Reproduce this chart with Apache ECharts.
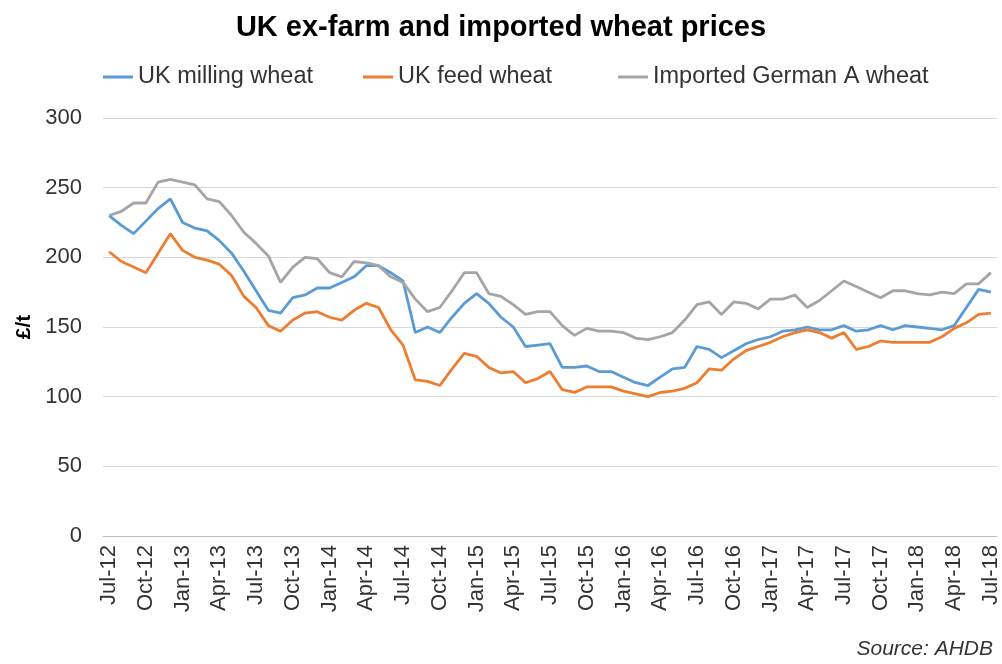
<!DOCTYPE html>
<html>
<head>
<meta charset="utf-8">
<script src="https://cdn.jsdelivr.net/npm/echarts@6/dist/echarts.min.js"></script>
<style>html,body{margin:0;padding:0;background:#fff}#c{width:1002px;height:664px}</style>
</head>
<body>
<div id="c"></div>
<script>
const months = [
 'Jul-12','Aug-12','Sep-12','Oct-12','Nov-12','Dec-12',
 'Jan-13','Feb-13','Mar-13','Apr-13','May-13','Jun-13','Jul-13','Aug-13','Sep-13','Oct-13','Nov-13','Dec-13',
 'Jan-14','Feb-14','Mar-14','Apr-14','May-14','Jun-14','Jul-14','Aug-14','Sep-14','Oct-14','Nov-14','Dec-14',
 'Jan-15','Feb-15','Mar-15','Apr-15','May-15','Jun-15','Jul-15','Aug-15','Sep-15','Oct-15','Nov-15','Dec-15',
 'Jan-16','Feb-16','Mar-16','Apr-16','May-16','Jun-16','Jul-16','Aug-16','Sep-16','Oct-16','Nov-16','Dec-16',
 'Jan-17','Feb-17','Mar-17','Apr-17','May-17','Jun-17','Jul-17','Aug-17','Sep-17','Oct-17','Nov-17','Dec-17',
 'Jan-18','Feb-18','Mar-18','Apr-18','May-18','Jun-18','Jul-18'
];
const ukMilling = [
 230,223,217,226,235,242,
 225,221,219,212,203,190,176,162,160,171,173,178,
 178,182,186,194,194,189,183,146,150,146,157,167,
 174,167,157,150,136,137,138,121,121,122,118,118,
 114,110,108,114,120,121,136,134,128,133,138,141,
 143,147,148,150,148,148,151,147,148,151,148,151,
 150,149,148,151,164,177,175
];
const ukFeed = [
 204,197,193,189,203,217,
 205,200,198,195,187,172,164,151,147,155,160,161,
 157,155,162,167,164,148,137,112,111,108,120,131,
 129,121,117,118,110,113,118,105,103,107,107,107,
 104,102,100,103,104,106,110,120,119,127,133,136,
 139,143,146,148,146,142,146,134,136,140,139,139,
 139,139,143,149,153,159,160
];
const germanA = [
 230,233,239,239,254,256,
 254,252,242,240,230,218,210,201,182,193,200,199,
 189,186,197,196,194,186,182,170,161,164,176,189,
 189,174,172,166,159,161,161,151,144,149,147,147,
 146,142,141,143,146,155,166,168,159,168,167,163,
 170,170,173,164,169,176,183,179,175,171,176,176,
 174,173,175,174,181,181,189
];
const seriesNames = ['UK milling wheat', 'UK feed wheat', 'Imported German A wheat'];

const chart = echarts.init(document.getElementById('c'));
const font = 'Liberation Sans, Arial, sans-serif';
const mk = (name, data, color) => ({
  name, type: 'line', data, symbol: 'none', smooth: false,
  lineStyle: { color, width: 2.8 }, itemStyle: { color }
});
const legendAt = (name, left) => ({
  top: 60, left,
  icon: 'rect', itemWidth: 30, itemHeight: 3,
  textStyle: { fontFamily: font, fontSize: 23.5, color: '#333' },
  data: [name]
});
chart.setOption({
  animation: false,
  textStyle: { fontFamily: font },
  title: {
    text: 'UK ex-farm and imported wheat prices',
    left: 'center', top: 8,
    textStyle: { fontFamily: font, fontSize: 29, fontWeight: 'bold', color: '#000' }
  },
  legend: [
    legendAt(seriesNames[0], 98),
    legendAt(seriesNames[1], 358),
    legendAt(seriesNames[2], 613)
  ],
  grid: { left: 103, right: 5, top: 118, bottom: 128, containLabel: false },
  xAxis: {
    type: 'category', data: months, boundaryGap: true,
    axisLine: { lineStyle: { color: '#bfbfbf', width: 1 } },
    axisTick: { show: false },
    axisLabel: { interval: 2, rotate: 90, fontFamily: font, fontSize: 22, color: '#333', margin: 9 }
  },
  yAxis: {
    type: 'value', min: 0, max: 300, interval: 50,
    name: '£/t', nameLocation: 'middle', nameGap: 65, nameRotate: 90,
    nameTextStyle: { fontFamily: font, fontSize: 21, fontWeight: 'bold', color: '#000' },
    axisLine: { show: false }, axisTick: { show: false },
    axisLabel: { fontFamily: font, fontSize: 22, color: '#333', margin: 21 },
    splitLine: { lineStyle: { color: '#d9d9d9', width: 1 } }
  },
  graphic: [{
    type: 'text', right: 9, bottom: 4,
    style: { text: 'Source: AHDB', font: 'italic 21px ' + font, fill: '#333' }
  }],
  series: [
    mk(seriesNames[0], ukMilling, '#5b9bd5'),
    mk(seriesNames[1], ukFeed, '#ed7d31'),
    mk(seriesNames[2], germanA, '#a5a5a5')
  ]
});
</script>
</body>
</html>
